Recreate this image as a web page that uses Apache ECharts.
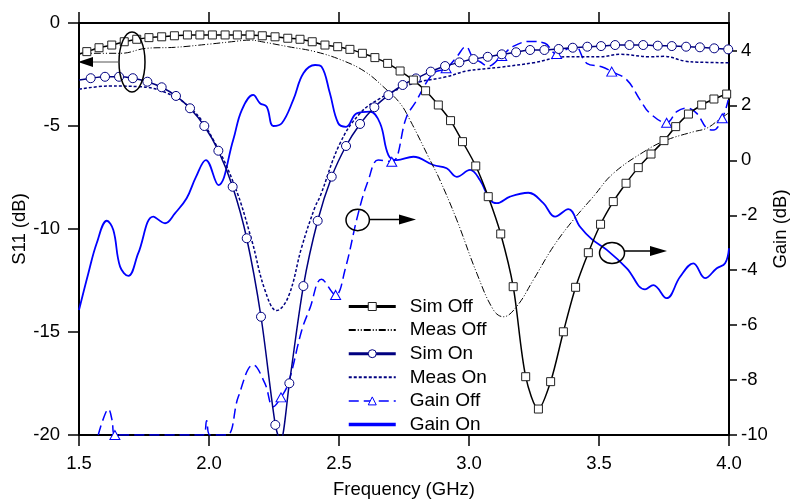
<!DOCTYPE html>
<html>
<head>
<meta charset="utf-8">
<script src="https://cdn.jsdelivr.net/npm/echarts@6/dist/echarts.min.js"></script>
<style>
  html, body { margin: 0; padding: 0; background: #fff; }
  #main { width: 791px; height: 503px; }
</style>
</head>
<body>
<div id="main"></div>
<script>
// values
var simOffFreq = [1.500, 1.530, 1.577, 1.626, 1.674, 1.722, 1.769, 1.818, 1.867, 1.917, 1.965, 2.013, 2.062, 2.109, 2.158,
    2.205, 2.254, 2.303, 2.350, 2.397, 2.446, 2.495, 2.542, 2.590, 2.638, 2.687, 2.735, 2.786, 2.833, 2.882, 2.929,
    2.975, 3.026, 3.074, 3.122, 3.170, 3.218, 3.267, 3.314, 3.363, 3.410, 3.459, 3.506, 3.555, 3.604, 3.651, 3.700,
    3.750, 3.795, 3.844, 3.895, 3.942, 3.991];
var simOffS11 = [-1.52, -1.39, -1.20, -1.07, -0.91, -0.79, -0.71, -0.67, -0.62, -0.58, -0.58, -0.58, -0.58, -0.58, -0.58,
    -0.62, -0.67, -0.74, -0.79, -0.91, -1.07, -1.15, -1.28, -1.47, -1.68, -1.96, -2.33, -2.77, -3.29, -3.98, -4.74,
    -5.76, -6.94, -8.43, -10.24, -12.80, -17.17, -18.74, -17.41, -14.99, -12.83, -11.15, -9.77, -8.67, -7.78, -7.02, -6.36,
    -5.71, -5.03, -4.42, -3.98, -3.69, -3.45];
var simOffHidden = [1.500];

var measOffFreq = [1.500, 1.662, 1.758, 1.869, 1.997, 2.087, 2.158, 2.203, 2.305, 2.408, 2.510, 2.600, 2.677, 2.735,
    2.773, 2.850, 2.888, 2.953, 3.030, 3.094, 3.132, 3.183, 3.247, 3.324, 3.401, 3.478, 3.555, 3.683, 3.760, 3.863,
    3.914, 3.960, 3.997];
var measOffS11 = [-1.47, -1.47, -1.23, -1.18, -1.03, -0.91, -0.83, -0.91, -1.15, -1.39, -1.80, -2.36, -3.17, -3.90,
    -4.71, -6.65, -7.62, -9.56, -12.15, -13.93, -14.26, -13.77, -12.48, -10.86, -9.56, -8.43, -7.30, -6.17, -5.68, -5.28,
    -5.11, -4.71, -4.38];

var simOnFreq = [1.500, 1.545, 1.600, 1.654, 1.707, 1.763, 1.818, 1.873, 1.927, 1.982, 2.036, 2.091, 2.145, 2.200, 2.255,
    2.275, 2.309, 2.363, 2.418, 2.472, 2.527, 2.581, 2.636, 2.690, 2.745, 2.796, 2.853, 2.908, 2.963, 3.017, 3.072,
    3.126, 3.181, 3.235, 3.290, 3.345, 3.399, 3.455, 3.508, 3.562, 3.617, 3.670, 3.726, 3.780, 3.835, 3.888, 3.943, 3.997];
var simOnS11 = [-2.77, -2.68, -2.61, -2.61, -2.68, -2.85, -3.12, -3.54, -4.14, -5.00, -6.20, -7.95, -10.45, -14.26, -19.51,
    -20.3, -17.49, -12.77, -9.60, -7.46, -5.97, -4.90, -4.09, -3.50, -3.01, -2.69, -2.36, -2.09, -1.91, -1.75, -1.64,
    -1.52, -1.42, -1.31, -1.31, -1.26, -1.20, -1.15, -1.12, -1.07, -1.07, -1.07, -1.10, -1.12, -1.15, -1.18, -1.23, -1.28];
var simOnHidden = [1.500, 2.275];

var measOnFreq = [1.500, 1.615, 1.731, 1.834, 1.937, 2.017, 2.100, 2.164, 2.215, 2.260, 2.305, 2.357, 2.408, 2.427, 2.504,
    2.581, 2.658, 2.735, 2.812, 2.914, 2.991, 3.119, 3.247, 3.376, 3.504, 3.581, 3.696, 3.750, 3.830, 3.880, 4.000];
var measOnS11 = [-3.22, -3.06, -3.09, -3.38, -4.22, -5.68, -7.95, -10.53, -12.96, -13.96, -13.29, -10.86, -8.92, -8.43, -5.84,
    -4.38, -3.66, -3.17, -2.85, -2.61, -2.33, -2.15, -1.93, -1.64, -1.64, -1.52, -1.64, -1.62, -1.85, -1.90, -1.93];

var gainOffFreq = [1.574, 1.592, 1.613, 1.627, 1.638, 1.977, 1.991, 2.004, 2.068, 2.113, 2.170, 2.215, 2.247, 2.277,
    2.305, 2.357, 2.388, 2.433, 2.487, 2.523, 2.574, 2.613, 2.651, 2.703, 2.760, 2.792, 2.863, 2.912, 2.953, 2.988,
    3.017, 3.042, 3.073, 3.126, 3.170, 3.235, 3.292, 3.337, 3.382, 3.408, 3.453, 3.510, 3.549, 3.607, 3.658, 3.696,
    3.760, 3.799, 3.837, 3.876, 3.914, 3.940, 3.974, 3.997];
var gainOffDb = [-10, -9.45, -9.06, -9.45, -10, -10, -9.48, -10, -10, -8.60, -7.45, -8.12, -8.97, -8.63,
    -8.12, -6.18, -5.39, -4.33, -4.90, -3.99, -1.93, -0.72, 0.01, -0.05, 1.59, 2.08, 3.17, 3.35, 3.77, 4.14,
    3.71, 3.59, 3.43, 3.80, 4.15, 4.33, 4.26, 3.87, 4.08, 4.16, 3.53, 3.41, 3.23, 2.93, 2.20, 1.71,
    1.37, 1.77, 1.90, 1.71, 1.17, 1.10, 1.53, 2.20];
var gainOffMarks = [1.638, 2.277, 2.487, 2.703, 2.912, 3.126, 3.337, 3.549, 3.760, 3.974];

var gainOnFreq = [1.500, 1.536, 1.568, 1.607, 1.632, 1.658, 1.690, 1.728, 1.786, 1.831, 1.869, 1.914, 1.950, 1.988, 2.036,
    2.093, 2.126, 2.170, 2.196, 2.222, 2.247, 2.280, 2.324, 2.363, 2.408, 2.433, 2.465, 2.497, 2.527, 2.568,
    2.619, 2.658, 2.690, 2.722, 2.786, 2.863, 2.914, 2.953, 3.004, 3.042, 3.081, 3.107, 3.158, 3.228, 3.286,
    3.331, 3.382, 3.427, 3.472, 3.530, 3.607, 3.677, 3.709, 3.760, 3.812, 3.863, 3.908, 3.953, 3.985, 4.000];
var gainOnDb = [-5.45, -4.11, -3.02, -2.20, -2.54, -3.87, -4.21, -3.38, -2.05, -2.29, -1.93, -1.38, -0.60, 0.01, -0.90,
    0.74, 1.83, 2.38, 2.08, 1.95, 1.25, 1.35, 2.20, 3.17, 3.47, 3.41, 2.44, 1.35, 1.22, 1.71,
    1.77, 1.35, 0.19, 0.01, 0.13, -0.17, -0.29, -0.60, -0.35, -0.72, -1.44, -1.56, -1.32, -1.18, -1.56,
    -2.05, -1.78, -2.42, -2.87, -3.26, -3.93, -4.70, -4.54, -5.02, -4.24, -3.75, -4.29, -3.93, -3.75, -3.20];

var gainTicks = [-10, -8, -6, -4, -2, 0, 2, 4];

var FONT = '"Liberation Sans", Arial, sans-serif';
var NAVY = '#000080';
var BLUE = '#0000ff';

// pair freq/value arrays; points that get no marker carry symbol 'none'
function pairs(fs, vs, marked) {
    return fs.map(function (f, i) {
        var item = { value: [f, vs[i]] };
        if (!marked(f)) item.symbol = 'none';
        return item;
    });
}
function notIn(list) { return function (f) { return list.indexOf(f) < 0; }; }
function inList(list) { return function (f) { return list.indexOf(f) >= 0; }; }
function plain(fs, vs) { return fs.map(function (f, i) { return [f, vs[i]]; }); }

var myChart = echarts.init(document.getElementById('main'));

var axisLineStyle = { color: '#000', width: 2 };
var tickStyle = { color: '#000', width: 1.5 };
var labelStyle = { fontSize: 18.5, color: '#000', fontFamily: FONT };

var option = {
    animation: false,
    grid: { left: 79, right: 62, top: 23, bottom: 68, outerBoundsMode: 'none', containLabel: false },
    legend: {
        orient: 'vertical',
        left: 347,
        top: 297,
        padding: 0,
        itemWidth: 47,
        itemHeight: 10,
        itemGap: 4.6,
        selectedMode: false,
        textStyle: { fontSize: 19, color: '#000', fontFamily: FONT, padding: [0, 0, 0, 9] },
        itemStyle: { borderWidth: 1 },
        data: [
            { name: 'Sim Off', lineStyle: { width: 3 } },
            { name: 'Meas Off', itemStyle: { opacity: 0 } },
            { name: 'Sim On', lineStyle: { width: 3 } },
            { name: 'Meas On', itemStyle: { opacity: 0 } },
            { name: 'Gain Off', lineStyle: { width: 1.5 } },
            { name: 'Gain On', lineStyle: { width: 3.5 }, itemStyle: { opacity: 0 } }
        ]
    },
    xAxis: [{
        type: 'value', min: 1.5, max: 4.0, interval: 0.5, position: 'bottom',
        name: 'Frequency (GHz)', nameLocation: 'middle', nameGap: 45, nameMoveOverlap: false,
        nameTextStyle: labelStyle,
        axisLine: { onZero: false, lineStyle: axisLineStyle },
        axisTick: { inside: false, length: 11, lineStyle: tickStyle },
        axisLabel: Object.assign({ margin: 19.5, formatter: function (v) { return v.toFixed(1); } }, labelStyle),
        splitLine: { show: false }
    }, {
        type: 'value', min: 1.5, max: 4.0, interval: 0.5, position: 'top',
        axisLine: { onZero: false, lineStyle: axisLineStyle },
        axisTick: { inside: false, length: 11, lineStyle: tickStyle },
        axisLabel: { show: false },
        splitLine: { show: false }
    }],
    yAxis: [{
        type: 'value', min: -20, max: 0, interval: 5, position: 'left',
        name: 'S11 (dB)', nameLocation: 'middle', nameGap: 50, nameRotate: 90, nameMoveOverlap: false,
        nameTextStyle: labelStyle,
        axisLine: { show: true, onZero: false, lineStyle: axisLineStyle },
        axisTick: { show: true, inside: false, length: 11, lineStyle: tickStyle },
        axisLabel: Object.assign({ margin: 19 }, labelStyle),
        splitLine: { show: false }
    }, {
        type: 'value', min: -10, max: 5, position: 'right',
        name: 'Gain (dB)', nameLocation: 'middle', nameGap: 42, nameRotate: 90, nameMoveOverlap: false,
        nameTextStyle: labelStyle,
        axisLine: { show: true, onZero: false, lineStyle: axisLineStyle },
        axisTick: { show: true, inside: false, length: 8, lineStyle: tickStyle, customValues: gainTicks },
        axisLabel: Object.assign({ margin: 12, customValues: gainTicks }, labelStyle),
        splitLine: { show: false }
    }],
    series: [{
        name: 'Gain On', type: 'line', xAxisIndex: 0, yAxisIndex: 1,
        data: plain(gainOnFreq, gainOnDb),
        smooth: 0.4, symbol: 'none',
        itemStyle: { color: BLUE },
        lineStyle: { color: BLUE, width: 1.8 }
    }, {
        name: 'Gain Off', type: 'line', xAxisIndex: 0, yAxisIndex: 1,
        data: pairs(gainOffFreq, gainOffDb, inList(gainOffMarks)),
        smooth: 0.4, symbol: 'triangle', symbolSize: [10, 9],
        itemStyle: { color: '#fff', borderColor: BLUE, borderWidth: 1 },
        lineStyle: { color: BLUE, width: 1.5, type: [10, 5] }
    }, {
        name: 'Meas Off', type: 'line', xAxisIndex: 0, yAxisIndex: 0,
        data: plain(measOffFreq, measOffS11),
        smooth: 0.4, symbol: 'none',
        itemStyle: { color: '#000' },
        lineStyle: { color: '#000', width: 1, type: [7, 2, 1, 2, 1, 2] }
    }, {
        name: 'Meas On', type: 'line', xAxisIndex: 0, yAxisIndex: 0,
        data: plain(measOnFreq, measOnS11),
        smooth: 0.4, symbol: 'none',
        itemStyle: { color: NAVY },
        lineStyle: { color: NAVY, width: 1.5, type: [3, 2] }
    }, {
        name: 'Sim On', type: 'line', xAxisIndex: 0, yAxisIndex: 0,
        data: pairs(simOnFreq, simOnS11, notIn(simOnHidden)),
        smooth: 0.3, symbol: 'circle', symbolSize: 9,
        itemStyle: { color: '#fff', borderColor: NAVY, borderWidth: 1 },
        lineStyle: { color: NAVY, width: 1.5 }
    }, {
        name: 'Sim Off', type: 'line', xAxisIndex: 0, yAxisIndex: 0,
        data: pairs(simOffFreq, simOffS11, notIn(simOffHidden)),
        smooth: 0.3, symbol: 'rect', symbolSize: 8,
        itemStyle: { color: '#fff', borderColor: '#222', borderWidth: 1 },
        lineStyle: { color: '#000', width: 1.5 }
    }],
    // ellipses and arrows marking which axis each group belongs to
    graphic: [
        { type: 'ellipse', shape: { cx: 132, cy: 62, rx: 13, ry: 30 }, style: { fill: 'none', stroke: '#000', lineWidth: 1.5 }, z: 100 },
        { type: 'line', shape: { x1: 119, y1: 62, x2: 92, y2: 62 }, style: { stroke: '#555', lineWidth: 1 }, z: 100 },
        { type: 'polygon', shape: { points: [[78, 62], [93, 57], [93, 67]] }, style: { fill: '#000' }, z: 100 },

        { type: 'ellipse', shape: { cx: 357.7, cy: 220, rx: 11.7, ry: 10.7 }, style: { fill: 'none', stroke: '#000', lineWidth: 1.5 }, z: 100 },
        { type: 'line', shape: { x1: 369.4, y1: 219.5, x2: 401, y2: 219.5 }, style: { stroke: '#000', lineWidth: 1.5 }, z: 100 },
        { type: 'polygon', shape: { points: [[416, 219.5], [399, 214.5], [399, 224.5]] }, style: { fill: '#000' }, z: 100 },

        { type: 'ellipse', shape: { cx: 612, cy: 253, rx: 12.5, ry: 10.5 }, style: { fill: 'none', stroke: '#000', lineWidth: 1.5 }, z: 100 },
        { type: 'line', shape: { x1: 624.5, y1: 251, x2: 651, y2: 251 }, style: { stroke: '#000', lineWidth: 1.5 }, z: 100 },
        { type: 'polygon', shape: { points: [[667, 251], [650, 246], [650, 256]] }, style: { fill: '#000' }, z: 100 }
    ]
};

myChart.setOption(option);
</script>
</body>
</html>
